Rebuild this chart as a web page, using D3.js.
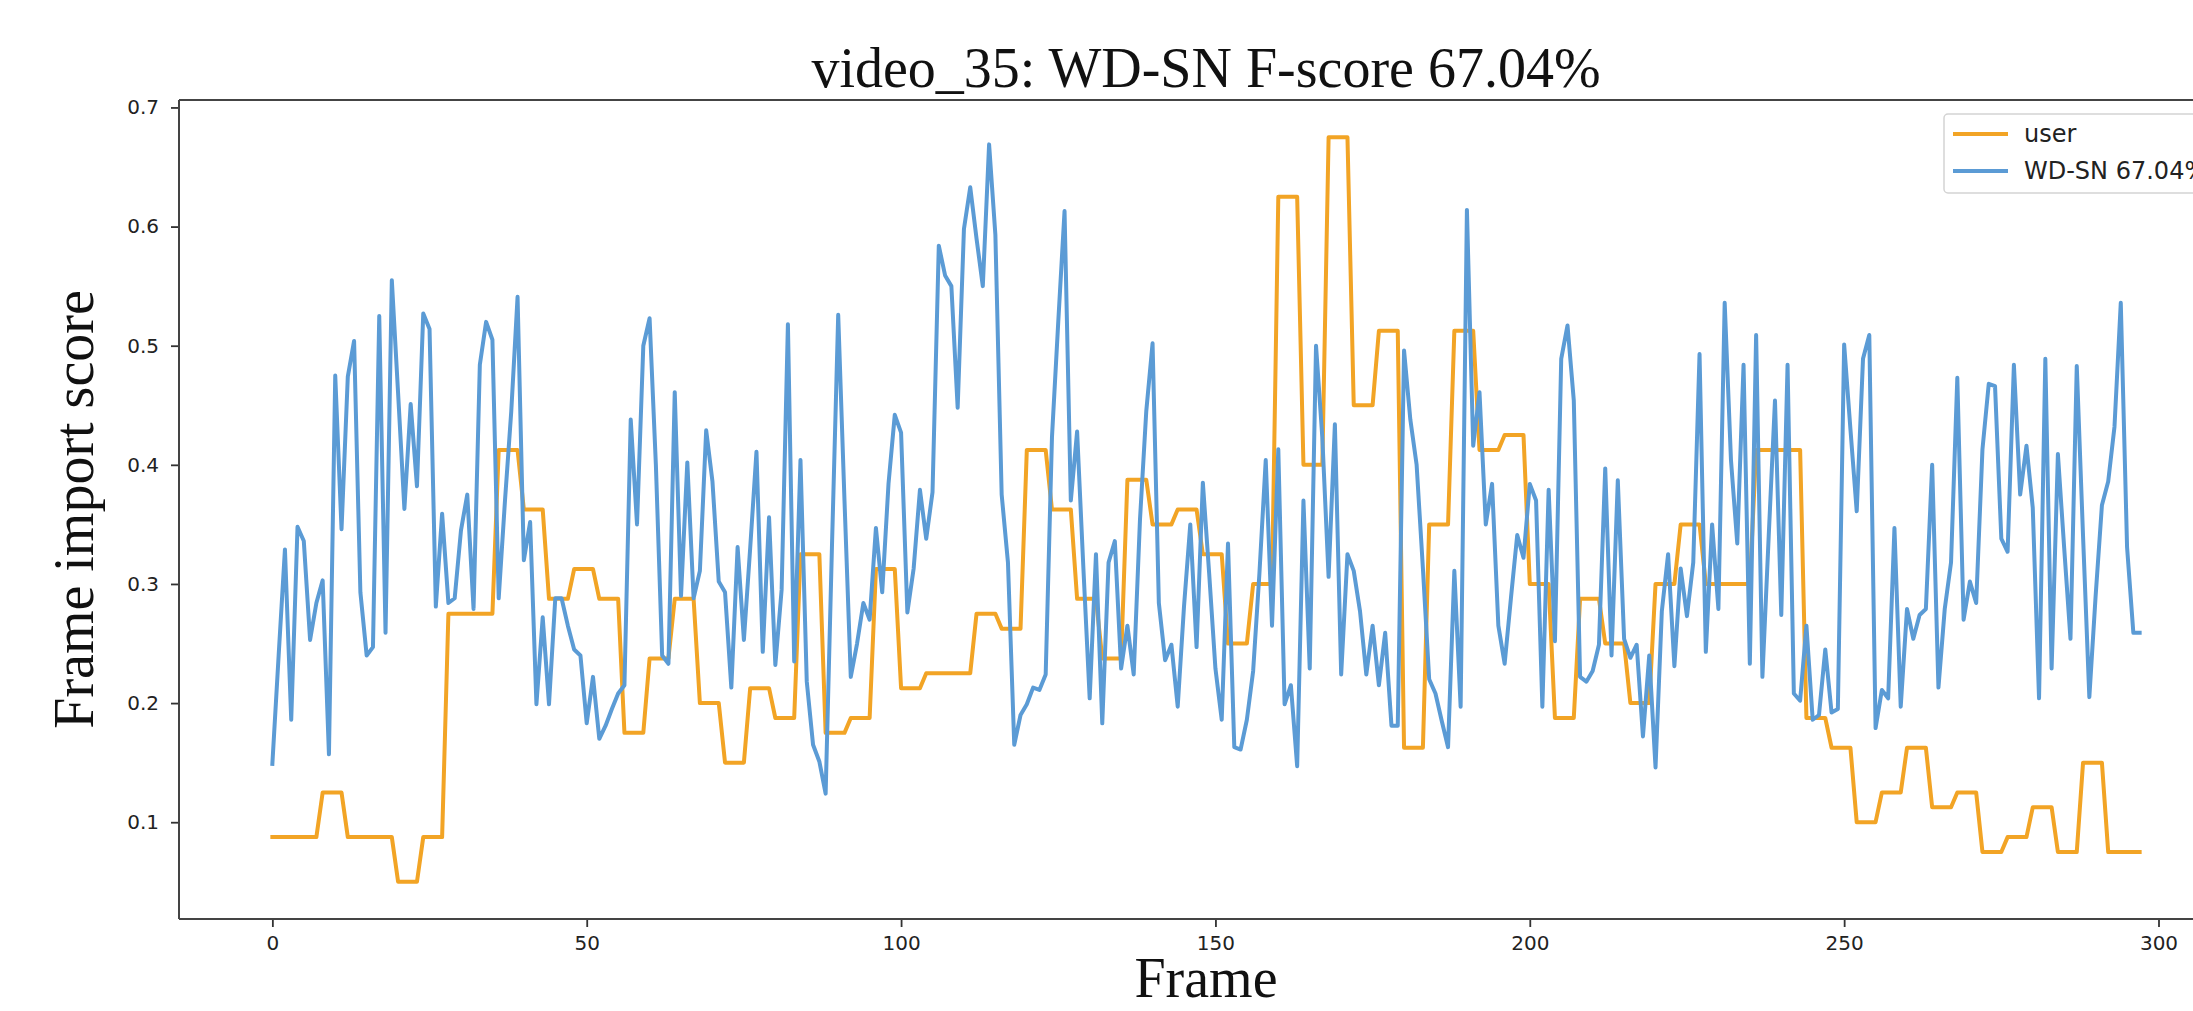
<!DOCTYPE html>
<html lang="en">
<head>
    <meta charset="UTF-8">
    <title>video_35</title>
    <style>
        body { margin: 0; background: #fff; }
    </style>
</head>
<body>
<script src="https://d3js.org/d3.v7.min.js"></script>
<script>

    // ---- data ----
    let titleText = "video_35: WD-SN F-score 67.04%";
    let xLabel = "Frame";
    let yLabel = "Frame import score";
    let seriesNames = ["user", "WD-SN 67.04%"];
    let xTicks = [0, 50, 100, 150, 200, 250, 300];
    let yTicks = [0.1, 0.2, 0.3, 0.4, 0.5, 0.6, 0.7];

    // WD-SN predicted score, one value per frame (0..297)
    let wdsnScores = [
        0.149, 0.240, 0.329, 0.186, 0.348, 0.336, 0.253, 0.284, 0.303, 0.157,
        0.475, 0.346, 0.474, 0.504, 0.293, 0.240, 0.247, 0.525, 0.259, 0.555,
        0.460, 0.363, 0.451, 0.382, 0.527, 0.514, 0.281, 0.359, 0.284, 0.288,
        0.345, 0.375, 0.279, 0.484, 0.520, 0.505, 0.288, 0.370, 0.445, 0.541,
        0.320, 0.352, 0.199, 0.272, 0.199, 0.288, 0.288, 0.265, 0.245, 0.240,
        0.183, 0.222, 0.170, 0.181, 0.195, 0.208, 0.215, 0.438, 0.350, 0.500,
        0.523, 0.400, 0.240, 0.233, 0.461, 0.290, 0.402, 0.288, 0.311, 0.429,
        0.386, 0.302, 0.293, 0.213, 0.331, 0.253, 0.330, 0.411, 0.243, 0.356,
        0.232, 0.295, 0.518, 0.235, 0.404, 0.218, 0.165, 0.151, 0.124, 0.330,
        0.526, 0.370, 0.222, 0.250, 0.284, 0.270, 0.347, 0.293, 0.384, 0.442,
        0.427, 0.276, 0.313, 0.379, 0.338, 0.377, 0.584, 0.559, 0.550, 0.448,
        0.598, 0.633, 0.590, 0.550, 0.669, 0.593, 0.375, 0.318, 0.165, 0.190,
        0.199, 0.213, 0.211, 0.224, 0.423, 0.520, 0.613, 0.370, 0.428, 0.313,
        0.204, 0.325, 0.183, 0.318, 0.336, 0.229, 0.265, 0.224, 0.354, 0.445,
        0.502, 0.284, 0.236, 0.249, 0.197, 0.281, 0.350, 0.247, 0.385, 0.309,
        0.229, 0.186, 0.334, 0.163, 0.161, 0.186, 0.227, 0.309, 0.404, 0.265,
        0.413, 0.199, 0.215, 0.147, 0.370, 0.229, 0.500, 0.423, 0.306, 0.434,
        0.224, 0.325, 0.311, 0.277, 0.224, 0.265, 0.215, 0.259, 0.181, 0.181,
        0.496, 0.438, 0.400, 0.313, 0.220, 0.208, 0.185, 0.163, 0.311, 0.197,
        0.614, 0.416, 0.461, 0.350, 0.384, 0.265, 0.233, 0.288, 0.341, 0.322,
        0.384, 0.370, 0.197, 0.379, 0.252, 0.489, 0.517, 0.454, 0.222, 0.218,
        0.227, 0.249, 0.397, 0.240, 0.387, 0.254, 0.238, 0.249, 0.172, 0.240,
        0.146, 0.277, 0.325, 0.231, 0.313, 0.273, 0.318, 0.493, 0.243, 0.350,
        0.279, 0.536, 0.404, 0.334, 0.484, 0.233, 0.509, 0.222, 0.340, 0.454,
        0.274, 0.484, 0.208, 0.202, 0.265, 0.186, 0.190, 0.245, 0.192, 0.195,
        0.501, 0.430, 0.361, 0.489, 0.509, 0.179, 0.211, 0.204, 0.347, 0.197,
        0.279, 0.254, 0.274, 0.279, 0.400, 0.213, 0.279, 0.318, 0.473, 0.270,
        0.302, 0.284, 0.413, 0.468, 0.466, 0.338, 0.327, 0.484, 0.375, 0.416,
        0.364, 0.204, 0.489, 0.229, 0.409, 0.330, 0.254, 0.483, 0.340, 0.205,
        0.290, 0.366, 0.386, 0.432, 0.536, 0.331, 0.259, 0.259
    ];

    // user score: [first frame, last frame, score] runs
    let userRuns = [
        [0, 7, 0.0875], [8, 11, 0.125], [12, 19, 0.0875], [20, 23, 0.05],
        [24, 27, 0.0875], [28, 35, 0.275], [36, 39, 0.4125], [40, 43, 0.3625],
        [44, 47, 0.2875], [48, 51, 0.3125], [52, 55, 0.2875], [56, 59, 0.175],
        [60, 63, 0.2375], [64, 67, 0.2875], [68, 71, 0.2], [72, 75, 0.15],
        [76, 79, 0.2125], [80, 83, 0.1875], [84, 87, 0.325], [88, 91, 0.175],
        [92, 95, 0.1875], [96, 99, 0.3125], [100, 103, 0.2125], [104, 111, 0.225],
        [112, 115, 0.275], [116, 119, 0.2625], [120, 123, 0.4125], [124, 127, 0.3625],
        [128, 131, 0.2875], [132, 135, 0.2375], [136, 139, 0.3875], [140, 143, 0.35],
        [144, 147, 0.3625], [148, 151, 0.325], [152, 155, 0.25], [156, 159, 0.3],
        [160, 163, 0.625], [164, 167, 0.4], [168, 171, 0.675], [172, 175, 0.45],
        [176, 179, 0.5125], [180, 183, 0.1625], [184, 187, 0.35], [188, 191, 0.5125],
        [192, 195, 0.4125], [196, 199, 0.425], [200, 203, 0.3], [204, 207, 0.1875],
        [208, 211, 0.2875], [212, 215, 0.25], [216, 219, 0.2], [220, 223, 0.3],
        [224, 227, 0.35], [228, 235, 0.3], [236, 243, 0.4125], [244, 247, 0.1875],
        [248, 251, 0.1625], [252, 255, 0.1], [256, 259, 0.125], [260, 263, 0.1625],
        [264, 267, 0.1125], [268, 271, 0.125], [272, 275, 0.075], [276, 279, 0.0875],
        [280, 283, 0.1125], [284, 287, 0.075], [288, 291, 0.15], [292, 297, 0.075]
    ];

    // ---- layout ----
    let w = 2193, h = 1011;
    let plot = {left: 179, top: 100, right: 2233, bottom: 919};
    let colors = ["#f2a425", "#5b9bd5"];
    let serif = "'Liberation Serif', 'Times New Roman', serif";
    let sans = "'DejaVu Sans', sans-serif";

    let svg = d3.select("body")
        .append("svg")
        .attr("width", w)
        .attr("height", h)
        .style("display", "block");

    // 比例尺 (matplotlib style 5% margins)
    let xScale = d3.scaleLinear()
        .domain([-14.85, 311.85])
        .range([plot.left, plot.right]);

    let yScale = d3.scaleLinear()
        .domain([0.01875, 0.70625])
        .range([plot.bottom, plot.top]);

    // series points
    let wdsnData = wdsnScores.map(function (v, i) {
        return {x: i, y: v};
    });
    let userData = [];
    userRuns.forEach(function (r) {
        for (let f = r[0]; f <= r[1]; ++f) userData.push({x: f, y: r[2]});
    });

    svg.append("clipPath")
        .attr("id", "plotClip")
        .append("rect")
        .attr("x", plot.left)
        .attr("y", plot.top)
        .attr("width", plot.right - plot.left)
        .attr("height", plot.bottom - plot.top);

    let line = d3.line()
        .x(function (d) { return xScale(d.x); })
        .y(function (d) { return yScale(d.y); });

    let lines = svg.append("g").attr("clip-path", "url(#plotClip)");
    [userData, wdsnData].forEach(function (data, i) {
        lines.append("path")
            .attr("d", line(data))
            .attr("fill", "none")
            .attr("stroke", colors[i])
            .attr("stroke-width", 4)
            .attr("stroke-linejoin", "round")
            .attr("stroke-linecap", "square");
    });

    // 坐标轴
    let xAxis = d3.axisBottom(xScale)
        .tickValues(xTicks)
        .tickSize(8)
        .tickPadding(9)
        .tickFormat(d3.format("d"));

    let yAxis = d3.axisLeft(yScale)
        .tickValues(yTicks)
        .tickSize(8)
        .tickPadding(12)
        .tickFormat(d3.format(".1f"));

    let gx = svg.append("g")
        .attr("transform", "translate(0," + plot.bottom + ")")
        .call(xAxis);
    let gy = svg.append("g")
        .attr("transform", "translate(" + plot.left + ",0)")
        .call(yAxis);

    [gx, gy].forEach(function (g) {
        g.select(".domain").remove();
        g.selectAll(".tick line").attr("stroke", "#333").attr("stroke-width", 1.8);
        g.selectAll(".tick text")
            .attr("fill", "#222")
            .style("font-family", sans)
            .style("font-size", "20px");
    });

    // spines (left, top, bottom; right one is outside the picture)
    function drawLine(x1, y1, x2, y2, l, c) {
        svg.append("line")
            .attr("x1", x1).attr("y1", y1)
            .attr("x2", x2).attr("y2", y2)
            .attr("stroke-width", l)
            .attr("stroke", c);
    }
    drawLine(plot.left, plot.top, plot.left, plot.bottom, 2, "#444");
    drawLine(plot.left, plot.top, plot.right, plot.top, 2, "#444");
    drawLine(plot.left, plot.bottom, plot.right, plot.bottom, 2, "#444");

    function drawText(x, y, s, size, family, anchor) {
        return svg.append("text")
            .attr("x", x)
            .attr("y", y)
            .attr("text-anchor", anchor || "middle")
            .style("fill", "#111")
            .style("font-family", family)
            .style("font-size", size)
            .text(s);
    }

    let midX = (plot.left + plot.right) / 2;
    drawText(midX, 87, titleText, "56px", serif);
    drawText(midX, 997, xLabel, "56px", serif);
    drawText(0, 0, yLabel, "56px", serif)
        .attr("transform", "translate(93," + ((plot.top + plot.bottom) / 2) + ") rotate(-90)");

    // 图例
    let legend = svg.append("g").attr("transform", "translate(1944,114)");
    legend.append("rect")
        .attr("x", 0).attr("y", 0)
        .attr("width", 320).attr("height", 79)
        .attr("rx", 4)
        .attr("fill", "#fff")
        .attr("fill-opacity", 0.8)
        .attr("stroke", "#d3d3d3")
        .attr("stroke-width", 1.5);

    seriesNames.forEach(function (name, i) {
        let ly = 20 + i * 37;
        legend.append("line")
            .attr("x1", 9).attr("x2", 64)
            .attr("y1", ly).attr("y2", ly)
            .attr("stroke", colors[i])
            .attr("stroke-width", 4);
        legend.append("text")
            .attr("x", 80)
            .attr("y", ly)
            .attr("dy", "0.35em")
            .style("fill", "#222")
            .style("font-family", sans)
            .style("font-size", "24px")
            .text(name);
    });

</script>
</body>
</html>
